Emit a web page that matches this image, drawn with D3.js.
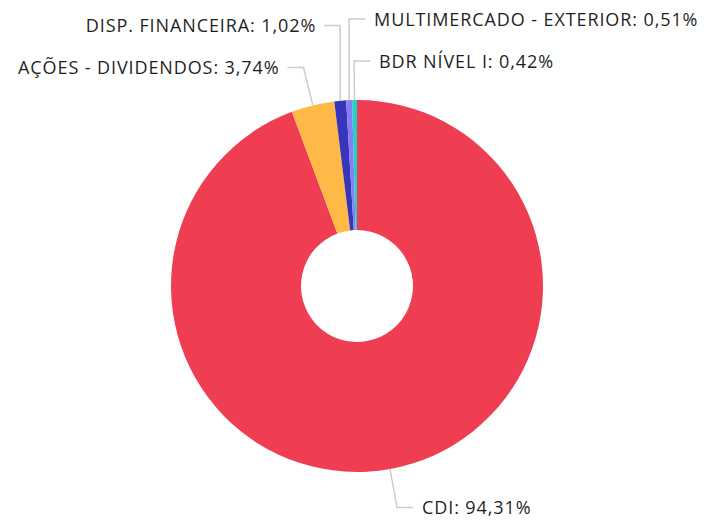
<!DOCTYPE html>
<html>
<head>
<meta charset="utf-8">
<script src="https://cdn.jsdelivr.net/npm/d3@7"></script>
<style>
  body { margin: 0; background: #fff; }
  svg { display: block; font-family: "Open Sans", sans-serif; }
</style>
</head>
<body>
<svg id="chart"></svg>
<script>
const categories = ['CDI', 'AÇÕES - DIVIDENDOS', 'DISP. FINANCEIRA', 'MULTIMERCADO - EXTERIOR', 'BDR NÍVEL I'];
const values = [94.31, 3.74, 1.02, 0.51, 0.42];
const colors = ['#ef3d52', '#ffb946', '#3636bb', '#8a7cf5', '#1fd1c6'];

const width = 706, height = 522;
const cx = 357, cy = 286;
const outerR = 186, innerR = 56;
const len1 = 39, len2 = 16, gap = 9, rowH = 42;

const svg = d3.select('#chart').attr('width', width).attr('height', height);
const g = svg.append('g').attr('transform', `translate(${cx},${cy})`);

const data = categories.map((c, i) => ({ name: c, value: values[i], color: colors[i] }));
const pie = d3.pie().value(d => d.value).sort(null);
const arc = d3.arc().innerRadius(innerR).outerRadius(outerR);
const arcs = pie(data);

g.selectAll('path.slice').data(arcs).enter().append('path')
  .attr('class', 'slice')
  .attr('d', arc)
  .attr('fill', d => d.data.color);

// label layout
const fmt = v => v.toFixed(2).replace('.', ',') + '%';
const labels = arcs.map(d => {
  const a = (d.startAngle + d.endAngle) / 2;
  const p = [outerR * Math.sin(a), -outerR * Math.cos(a)];
  const e = [(outerR + len1) * Math.sin(a), -(outerR + len1) * Math.cos(a)];
  // slices almost straight up go to the right side
  const right = Math.sin(a) >= -0.05;
  return { d, a, p, e, right, y: e[1], shifted: false };
});

// push overlapping labels upwards on each side, outermost first so lines don't cross
['left', 'right'].forEach(side => {
  const isRight = side === 'right';
  const list = labels.filter(l => isRight === l.right && l.e[1] < 0)
    .sort((a, b) => isRight ? b.p[0] - a.p[0] : a.p[0] - b.p[0]);
  let prev = null;
  list.forEach(l => {
    if (prev !== null && l.y > prev - rowH) { l.y = prev - rowH; l.shifted = true; }
    prev = l.y;
  });
});

labels.forEach(l => {
  const ex = l.shifted ? l.p[0] : l.e[0];
  const hx = l.right ? ex + len2 : ex - len2;
  g.append('polyline')
    .attr('points', [l.p, [ex, l.y], [hx, l.y]].map(q => q.join(',')).join(' '))
    .attr('fill', 'none')
    .attr('stroke', '#cccccc')
    .attr('stroke-width', 1.5);
  g.append('text')
    .attr('x', l.right ? hx + gap : hx - gap + 1)
    .attr('y', l.y + 7)
    .attr('text-anchor', l.right ? 'start' : 'end')
    .attr('font-size', '18px')
    .attr('letter-spacing', '0.9px')
    .attr('fill', '#1f1f1f')
    .text(`${l.d.data.name}: ${fmt(l.d.data.value)}`);
});
</script>
</body>
</html>
